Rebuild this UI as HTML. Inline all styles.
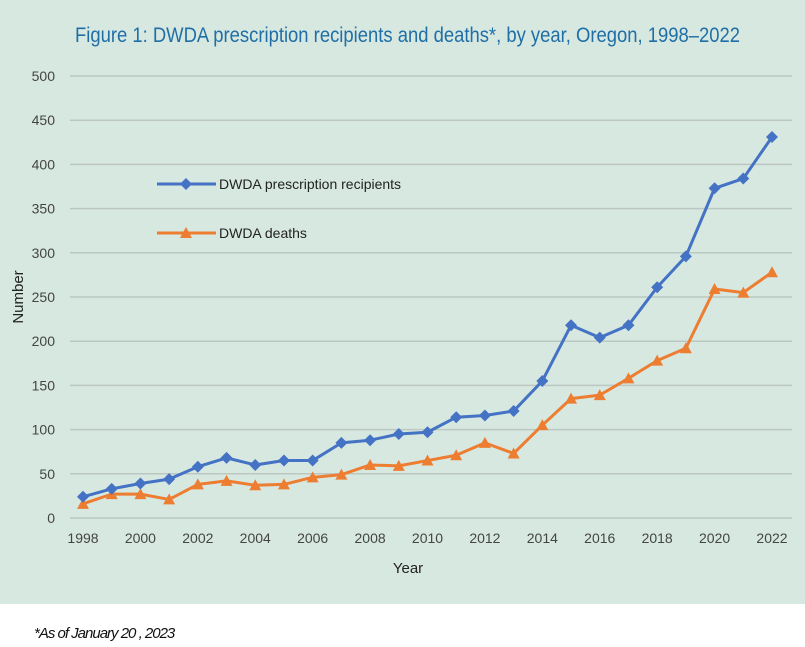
<!DOCTYPE html>
<html><head><meta charset="utf-8"><style>
body{margin:0;width:805px;height:647px;background:#fff;font-family:"Liberation Sans",sans-serif;overflow:hidden}
#bg{position:absolute;left:0;top:0;width:805px;height:604px;background:#d7e8e1}
svg{position:absolute;left:0;top:0}
#foot{position:absolute;left:34px;top:625px;font-size:15px;font-style:italic;letter-spacing:-1px;color:#111}
</style></head><body>
<div id="bg"></div>
<svg id="c" width="805" height="604"></svg>
<div id="foot">*As of January 20 , 2023</div>
<script>
const years=[1998,1999,2000,2001,2002,2003,2004,2005,2006,2007,2008,2009,2010,2011,2012,2013,2014,2015,2016,2017,2018,2019,2020,2021,2022];
const recipients=[24,33,39,44,58,68,60,65,65,85,88,95,97,114,116,121,155,218,204,218,261,296,373,384,431];
const deaths=[16,27,27,21,38,42,37,38,46,49,60,59,65,71,85,73,105,135,139,158,178,192,259,255,278];
const yTicks=[0,50,100,150,200,250,300,350,400,450,500];
const xTickLabels=[1998,2000,2002,2004,2006,2008,2010,2012,2014,2016,2018,2020,2022];
const NS="http://www.w3.org/2000/svg",svg=document.getElementById('c');
const x=v=>83+(v-1998)*(772-83)/24, y=v=>518-v*(518-76)/500;
function el(t,a,p){const e=document.createElementNS(NS,t);for(const k in a)e.setAttribute(k,a[k]);(p||svg).appendChild(e);return e;}
const title=el('text',{x:75,y:42,'font-size':21,fill:'#1f6fa6',textLength:665,lengthAdjust:'spacingAndGlyphs'});title.textContent='Figure 1: DWDA prescription recipients and deaths*, by year, Oregon, 1998–2022';


yTicks.forEach(v=>{const g=el('line',{x1:70,x2:792,y1:y(v),y2:y(v),stroke:'#bcc7c2','stroke-width':1.5});


const t=el('text',{x:55,y:y(v)+5,'text-anchor':'end','font-size':14,fill:'#444'});t.textContent=v;

});
xTickLabels.forEach(v=>{const t=el('text',{x:x(v),y:543,'text-anchor':'middle','font-size':14,fill:'#444'});t.textContent=v;

});
const xt=el('text',{x:408,y:573,'text-anchor':'middle','font-size':15,fill:'#222'});xt.textContent='Year';


const yt=el('text',{x:23,y:297,'text-anchor':'middle','font-size':15,fill:'#222',transform:'rotate(-90 23 297)'});yt.textContent='Number';


function diamond(cx,cy,c,g){return el('path',{d:`M${cx} ${cy-6}L${cx+6} ${cy}L${cx} ${cy+6}L${cx-6} ${cy}Z`,fill:c},g);}
function tri(cx,cy,c,g){return el('path',{d:`M${cx} ${cy-6}L${cx+6} ${cy+5}L${cx-6} ${cy+5}Z`,fill:c},g);}
function series(vals,c,mk,name){const g=el('g',{});


const l=el('polyline',{points:vals.map((v,i)=>x(years[i])+','+y(v)).join(' '),fill:'none',stroke:c,'stroke-width':3,'stroke-linejoin':'round'},g);


vals.forEach((v,i)=>{const m=mk(x(years[i]),y(v),c,g);

});}
series(deaths,'#ed7d31',tri,'deaths');
series(recipients,'#4472c4',diamond,'recipients');
function legend(yy,c,mk,txt,name){const g=el('g',{});


el('line',{x1:157,x2:216,y1:yy,y2:yy,stroke:c,'stroke-width':3},g);mk(186,yy,c,g);
const t=el('text',{x:219,y:yy+5,'font-size':14,fill:'#222'},g);t.textContent=txt;}
legend(184,'#4472c4',diamond,'DWDA prescription recipients','recipients');
legend(233,'#ed7d31',tri,'DWDA deaths','deaths');
</script>
</body></html>
